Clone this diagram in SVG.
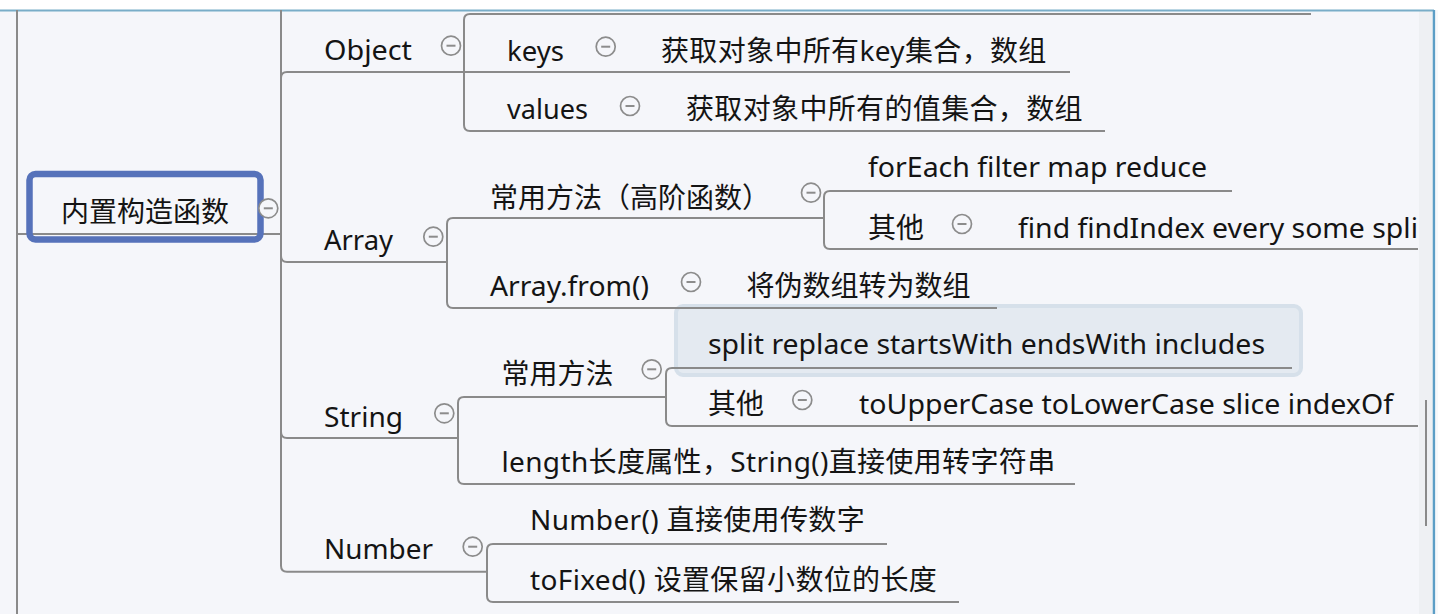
<svg xmlns="http://www.w3.org/2000/svg" width="1438" height="614" viewBox="0 0 1438 614">
<style>
.ln{fill:none;stroke:#8a8a8a;stroke-width:2;stroke-linejoin:round}
.t{font-family:"Noto Sans","Noto Sans CJK SC",sans-serif;font-size:28px;fill:#141414}
.m{letter-spacing:0.35px}
</style>
<defs>
<g id="minus"><circle cx="0" cy="0" r="9.5" fill="#f5f6fa" stroke="#8c8c8c" stroke-width="1.7"/><path d="M-4.5 0H4.5" stroke="#8c8c8c" stroke-width="2"/></g>
</defs>
<rect x="0" y="0" width="1438" height="614" fill="#f5f6fa"/>
<rect x="0" y="0" width="1438" height="10" fill="#ffffff"/>
<rect x="1419" y="10" width="14" height="604" fill="#eef0f3"/>
<line x1="0" y1="10.5" x2="1434" y2="10.5" stroke="#79adc8" stroke-width="2"/>
<line x1="1434" y1="10" x2="1434" y2="614" stroke="#5c9ec6" stroke-width="2.5"/>
<rect x="1435.5" y="10" width="3" height="604" fill="#f8f9fb"/>
<line x1="1426" y1="400" x2="1426" y2="526" stroke="#8a8a8a" stroke-width="2"/>

<g id="node-split-selected">
<rect x="676" y="306" width="625" height="69" rx="7" fill="#e4eaf1" stroke="#d6e0ea" stroke-width="4"/>
</g>

<g id="connectors">
<path class="ln" d="M17 10V614"/>
<path class="ln" d="M17 234H281"/>
<path class="ln" d="M281 10V565.7Q281 571.7 287 571.7H487"/>
<path class="ln" d="M281 234V78Q281 72 287 72H1070"/>
<path class="ln" d="M1311 14H470Q464 14 464 20V125Q464 131 470 131H1105"/>
<path class="ln" d="M281 234V256Q281 262 287 262H447"/>
<path class="ln" d="M824 218H453Q447 218 447 224V302Q447 308 453 308H997"/>
<path class="ln" d="M1232 191H830Q824 191 824 197V243Q824 249 830 249H1418"/>
<path class="ln" d="M281 234V432Q281 438 287 438H458"/>
<path class="ln" d="M666 397H464Q458 397 458 403V478Q458 484 464 484H1075"/>
<path class="ln" d="M1292 368H672Q666 368 666 374V420Q666 426 672 426H1418"/>
<path class="ln" d="M887 544H493Q487 544 487 550V596Q487 602 493 602H959"/>
</g>

<g id="node-root">
<rect x="29.5" y="174" width="231" height="65.5" rx="6" fill="none" stroke="#5672ba" stroke-width="6.5"/>
<text class="t" x="61" y="221.5">内置构造函数</text>
<use href="#minus" x="268.3" y="208.3"/>
</g>

<g id="node-object">
<text class="t" x="324" y="60" textLength="88" lengthAdjust="spacingAndGlyphs">Object</text>
<use href="#minus" x="451" y="45.7"/>
</g>
<g id="node-keys">
<text class="t" x="507" y="61" textLength="57" lengthAdjust="spacingAndGlyphs">keys</text>
<use href="#minus" x="605.7" y="46.7"/>
</g>
<g id="node-keys-desc">
<text class="t m" x="661" y="61">获取对象中所有key集合，数组</text>
</g>
<g id="node-values">
<text class="t" x="507" y="118.5" textLength="81" lengthAdjust="spacingAndGlyphs">values</text>
<use href="#minus" x="630" y="106"/>
</g>
<g id="node-values-desc">
<text class="t m" x="686" y="118.5">获取对象中所有的值集合，数组</text>
</g>

<g id="node-array">
<text class="t" x="324" y="250" textLength="69" lengthAdjust="spacingAndGlyphs">Array</text>
<use href="#minus" x="433.3" y="236.7"/>
</g>
<g id="node-array-common">
<text class="t" x="490" y="208">常用方法（高阶函数）</text>
<use href="#minus" x="811" y="192.7"/>
</g>
<g id="node-array-foreach">
<text class="t" x="868" y="177" textLength="339" lengthAdjust="spacingAndGlyphs">forEach filter map reduce</text>
</g>
<g id="node-array-other">
<text class="t" x="868" y="238">其他</text>
<use href="#minus" x="962" y="224"/>
</g>
<g id="node-array-other-desc">
<text class="t" x="1018" y="238" textLength="400" lengthAdjust="spacingAndGlyphs">find findIndex every some spli</text>
</g>
<g id="node-array-from">
<text class="t" x="490" y="296" textLength="159" lengthAdjust="spacingAndGlyphs">Array.from()</text>
<use href="#minus" x="691" y="282"/>
</g>
<g id="node-array-from-desc">
<text class="t" x="746.5" y="296">将伪数组转为数组</text>
</g>

<g id="node-string">
<text class="t" x="324" y="426.5" textLength="79" lengthAdjust="spacingAndGlyphs">String</text>
<use href="#minus" x="444.3" y="413.3"/>
</g>
<g id="node-string-common">
<text class="t" x="501.5" y="383.5">常用方法</text>
<use href="#minus" x="651.7" y="369.3"/>
</g>
<g id="node-string-split">
<text class="t" x="708" y="353.5" textLength="557" lengthAdjust="spacingAndGlyphs">split replace startsWith endsWith includes</text>
</g>
<g id="node-string-other">
<text class="t" x="708" y="413.5">其他</text>
<use href="#minus" x="802.3" y="400"/>
</g>
<g id="node-string-other-desc">
<text class="t" x="859" y="413.5" textLength="534" lengthAdjust="spacingAndGlyphs">toUpperCase toLowerCase slice indexOf</text>
</g>
<g id="node-string-length">
<text class="t m" x="501.5" y="472">length长度属性，String()直接使用转字符串</text>
</g>

<g id="node-number">
<text class="t" x="324" y="559" textLength="109" lengthAdjust="spacingAndGlyphs">Number</text>
<use href="#minus" x="472.7" y="546.7"/>
</g>
<g id="node-number-ctor">
<text class="t m" x="530" y="530">Number() 直接使用传数字</text>
</g>
<g id="node-number-tofixed">
<text class="t m" x="530" y="590">toFixed() 设置保留小数位的长度</text>
</g>
</svg>
